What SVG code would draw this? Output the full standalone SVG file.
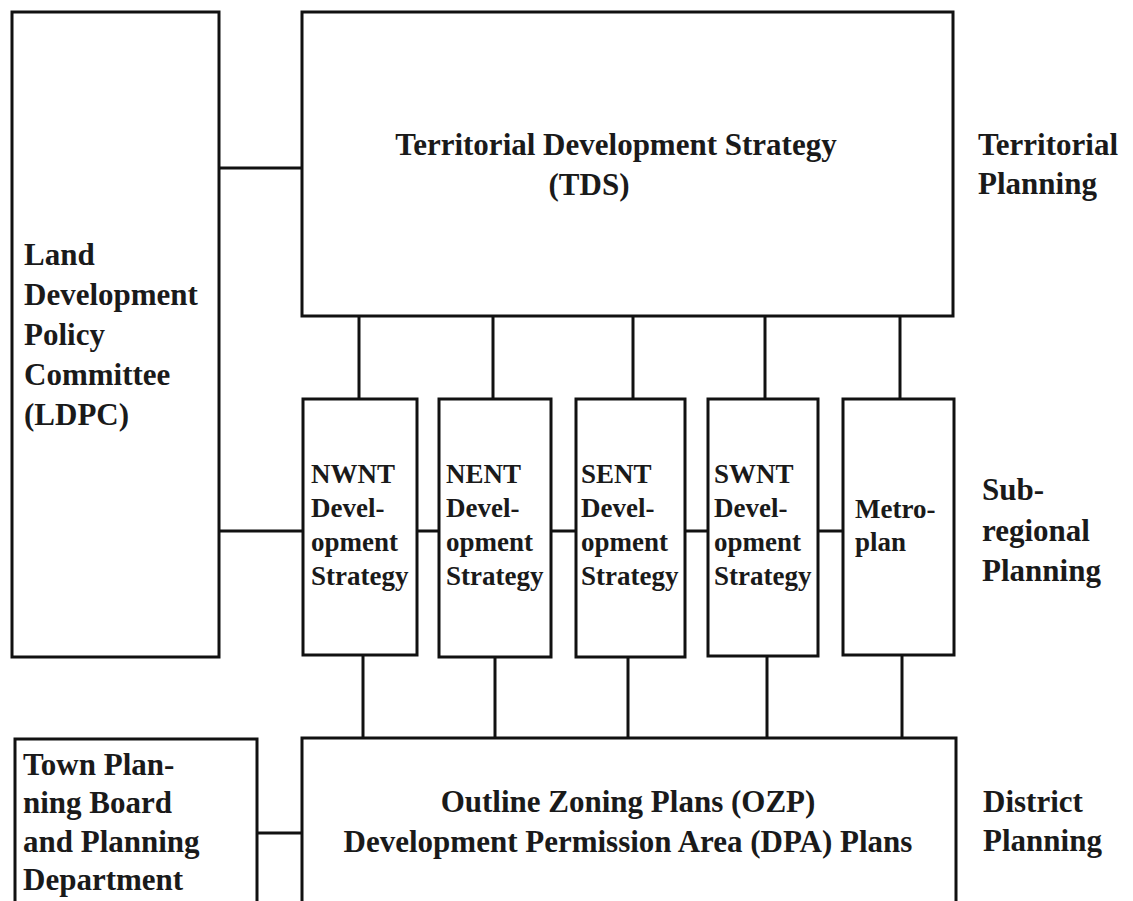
<svg xmlns="http://www.w3.org/2000/svg" width="1133" height="901" viewBox="0 0 1133 901">
<style>
.box{fill:none;stroke:#111;stroke-width:3}
.con{stroke:#111;stroke-width:3;fill:none}
.t{font-family:"Liberation Serif","Times New Roman",serif;font-weight:bold;fill:#1a1a1a;font-size:31px}
.s{font-family:"Liberation Serif","Times New Roman",serif;font-weight:bold;fill:#1a1a1a;font-size:27px}
.m{text-anchor:middle}
</style>
<rect x="0" y="0" width="1133" height="901" fill="#fff"/>
<g id="connectors">
<line class="con" x1="219" y1="168" x2="302" y2="168"/>
<line class="con" x1="219" y1="531" x2="303" y2="531"/>
<line class="con" x1="417" y1="531" x2="439" y2="531"/>
<line class="con" x1="551" y1="531" x2="576" y2="531"/>
<line class="con" x1="685" y1="531" x2="708" y2="531"/>
<line class="con" x1="818" y1="531" x2="843" y2="531"/>
<line class="con" x1="359" y1="316" x2="359" y2="399"/>
<line class="con" x1="493" y1="316" x2="493" y2="399"/>
<line class="con" x1="633" y1="316" x2="633" y2="399"/>
<line class="con" x1="765" y1="316" x2="765" y2="399"/>
<line class="con" x1="900" y1="316" x2="900" y2="399"/>
<line class="con" x1="363" y1="655" x2="363" y2="738"/>
<line class="con" x1="495" y1="657" x2="495" y2="738"/>
<line class="con" x1="628" y1="657" x2="628" y2="738"/>
<line class="con" x1="767" y1="656" x2="767" y2="738"/>
<line class="con" x1="902" y1="655" x2="902" y2="738"/>
<line class="con" x1="257" y1="833" x2="302" y2="833"/>
</g>
<g id="ldpc">
<rect class="box" x="12" y="12" width="207" height="645"/>
<text class="t" x="24" y="265">Land</text>
<text class="t" x="24" y="305">Development</text>
<text class="t" x="24" y="345">Policy</text>
<text class="t" x="24" y="385">Committee</text>
<text class="t" x="24" y="425">(LDPC)</text>
</g>
<g id="tds">
<rect class="box" x="302" y="12" width="651" height="304"/>
<text class="t m" x="616" y="155">Territorial Development Strategy</text>
<text class="t m" x="589" y="195">(TDS)</text>
</g>
<g id="nwnt">
<rect class="box" x="303" y="399" width="114" height="256"/>
<text class="s" x="311" y="483">NWNT</text>
<text class="s" x="311" y="517">Devel-</text>
<text class="s" x="311" y="551">opment</text>
<text class="s" x="311" y="585">Strategy</text>
</g>
<g id="nent">
<rect class="box" x="439" y="399" width="112" height="258"/>
<text class="s" x="446" y="483">NENT</text>
<text class="s" x="446" y="517">Devel-</text>
<text class="s" x="446" y="551">opment</text>
<text class="s" x="446" y="585">Strategy</text>
</g>
<g id="sent">
<rect class="box" x="576" y="399" width="109" height="258"/>
<text class="s" x="581" y="483">SENT</text>
<text class="s" x="581" y="517">Devel-</text>
<text class="s" x="581" y="551">opment</text>
<text class="s" x="581" y="585">Strategy</text>
</g>
<g id="swnt">
<rect class="box" x="708" y="399" width="110" height="257"/>
<text class="s" x="714" y="483">SWNT</text>
<text class="s" x="714" y="517">Devel-</text>
<text class="s" x="714" y="551">opment</text>
<text class="s" x="714" y="585">Strategy</text>
</g>
<g id="metroplan">
<rect class="box" x="843" y="399" width="111" height="256"/>
<text class="s" x="855" y="518">Metro-</text>
<text class="s" x="855" y="551">plan</text>
</g>
<g id="ozp">
<rect class="box" x="302" y="738" width="654" height="190"/>
<text class="t m" x="628" y="812">Outline Zoning Plans (OZP)</text>
<text class="t m" x="628" y="852">Development Permission Area (DPA) Plans</text>
</g>
<g id="tpb">
<rect class="box" x="15" y="739" width="242" height="190"/>
<text class="t" x="23" y="775">Town Plan-</text>
<text class="t" x="23" y="813">ning Board</text>
<text class="t" x="23" y="852">and Planning</text>
<text class="t" x="23" y="890">Department</text>
</g>
<g id="levels">
<text class="t" x="978" y="155">Territorial</text>
<text class="t" x="978" y="194">Planning</text>
<text class="t" x="982" y="500">Sub-</text>
<text class="t" x="982" y="541">regional</text>
<text class="t" x="982" y="581">Planning</text>
<text class="t" x="983" y="812">District</text>
<text class="t" x="983" y="851">Planning</text>
</g>
</svg>
